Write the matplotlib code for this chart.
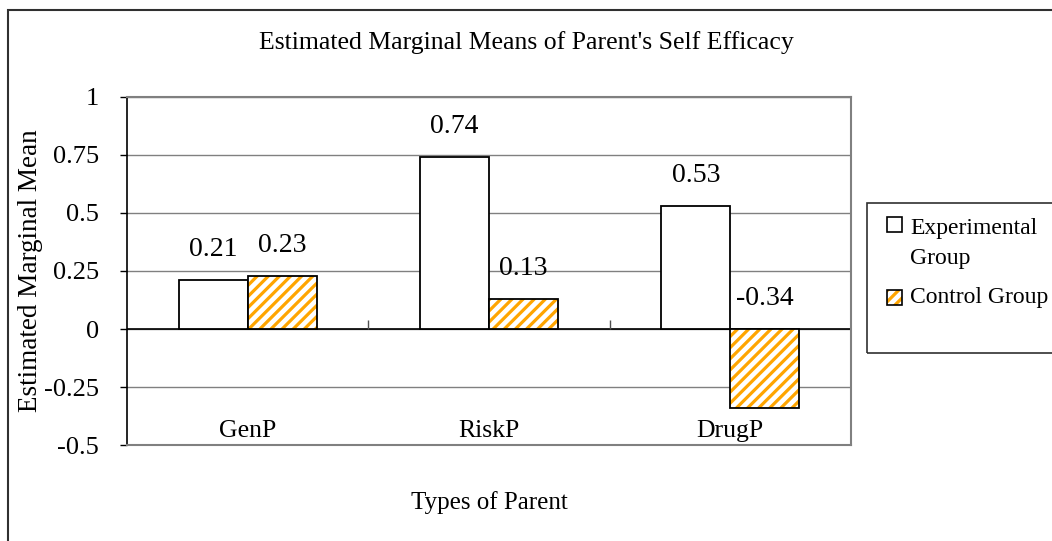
import matplotlib
matplotlib.use("Agg")
import matplotlib.pyplot as plt
from matplotlib.patches import Rectangle
import numpy as np

categories = ["GenP", "RiskP", "DrugP"]
experimental = [0.21, 0.74, 0.53]
control = [0.23, 0.13, -0.34]
series_names = ["Experimental\nGroup", "Control Group"]
yticks = [-0.5, -0.25, 0, 0.25, 0.5, 0.75, 1]
ytick_labels = ["-0.5", "-0.25", "0", "0.25", "0.5", "0.75", "1"]
title = "Estimated Marginal Means of Parent's Self Efficacy"
xlabel = "Types of Parent"
ylabel = "Estimated Marginal Mean"

plt.rcParams['font.family'] = ['Liberation Serif', 'DejaVu Serif']
plt.rcParams['hatch.linewidth'] = 2.3

W, H = 1052, 541
fig = plt.figure(figsize=(W / 100, H / 100), dpi=100)

# outer chart frame
fig.patches.append(Rectangle((8 / W, -0.05), 1.1, 1 - 10 / H + 0.05, transform=fig.transFigure,
                             fill=False, edgecolor='#303030', lw=1.5, zorder=0))

ax = fig.add_axes([127 / W, 1 - 445 / H, (851 - 127) / W, (445 - 97) / H])
x = np.arange(len(categories))
bw = 0.286
orange = '#FFA500'

ax.bar(x - bw / 2, experimental, bw, facecolor='white', edgecolor='black', lw=1.3, zorder=3)
ax.bar(x + bw / 2, control, bw, facecolor='white', edgecolor=orange, hatch='///', lw=0, zorder=3)
ax.bar(x + bw / 2, control, bw, fill=False, edgecolor='black', lw=1.3, zorder=4)

ax.set_xlim(-0.5, len(categories) - 0.5)
ax.set_ylim(yticks[0], yticks[-1])
ax.set_yticks(yticks)
ax.set_yticklabels(ytick_labels)
ax.tick_params(axis='y', labelsize=19, length=5, pad=15, width=1)
ax.set_xticks([])
ax.yaxis.grid(True, color='#808080', lw=1)
ax.set_axisbelow(True)
for s in ['top', 'right', 'bottom']:
    ax.spines[s].set_color('#808080')
    ax.spines[s].set_linewidth(1.5)
ax.spines['left'].set_color('black')
ax.spines['left'].set_linewidth(1.2)

# zero axis line and category tick marks
ax.axhline(0, color='black', lw=1.2, zorder=2)
bounds = np.arange(len(categories) + 1) - 0.5
ax.vlines(bounds[1:-1], 0, 0.04, color='#505050', lw=1, zorder=2)

# data labels
for xi, v in zip(x - bw / 2, experimental):
    ax.annotate(f"{v:.2f}", (xi, max(v, 0)), xytext=(0, 13), textcoords='offset points',
                ha='center', va='bottom', fontsize=20)
for xi, v in zip(x + bw / 2, control):
    ax.annotate(f"{v:.2f}", (xi, max(v, 0)), xytext=(0, 13), textcoords='offset points',
                ha='center', va='bottom', fontsize=20)

# category labels (low position)
for xi, c in zip(x, categories):
    ax.text(xi, 0.008, c, transform=ax.get_xaxis_transform(), ha='center', va='bottom', fontsize=18.5)

fig.text(0.5, 1 - 43 / H, title, ha='center', va='center', fontsize=18.5)
fig.text(489 / W, 1 - 503 / H, xlabel, ha='center', va='center', fontsize=18)
fig.text(31 / W, 1 - 271 / H, ylabel, ha='center', va='center', rotation=90, fontsize=19.5)

# legend box
fig.patches.append(Rectangle((867 / W, 1 - 353 / H), 0.3, 150 / H, transform=fig.transFigure,
                             fill=False, edgecolor='#303030', lw=1.2, zorder=1))
sq = 15
fig.patches.append(Rectangle((887 / W, 1 - 232 / H), sq / W, sq / H, transform=fig.transFigure,
                             facecolor='white', edgecolor='black', lw=1.2, zorder=2))
fig.patches.append(Rectangle((887 / W, 1 - 305 / H), sq / W, sq / H, transform=fig.transFigure,
                             facecolor='white', edgecolor=orange, hatch='///', lw=0, zorder=2))
fig.patches.append(Rectangle((887 / W, 1 - 305 / H), sq / W, sq / H, transform=fig.transFigure,
                             fill=False, edgecolor='black', lw=1.2, zorder=3))
fig.text(910 / W, 1 - 243.5 / H, series_names[0], ha='left', va='center', fontsize=17, linespacing=1.6)
fig.text(910 / W, 1 - 297 / H, series_names[1], ha='left', va='center', fontsize=17)

fig.savefig("out.png", dpi=100)
